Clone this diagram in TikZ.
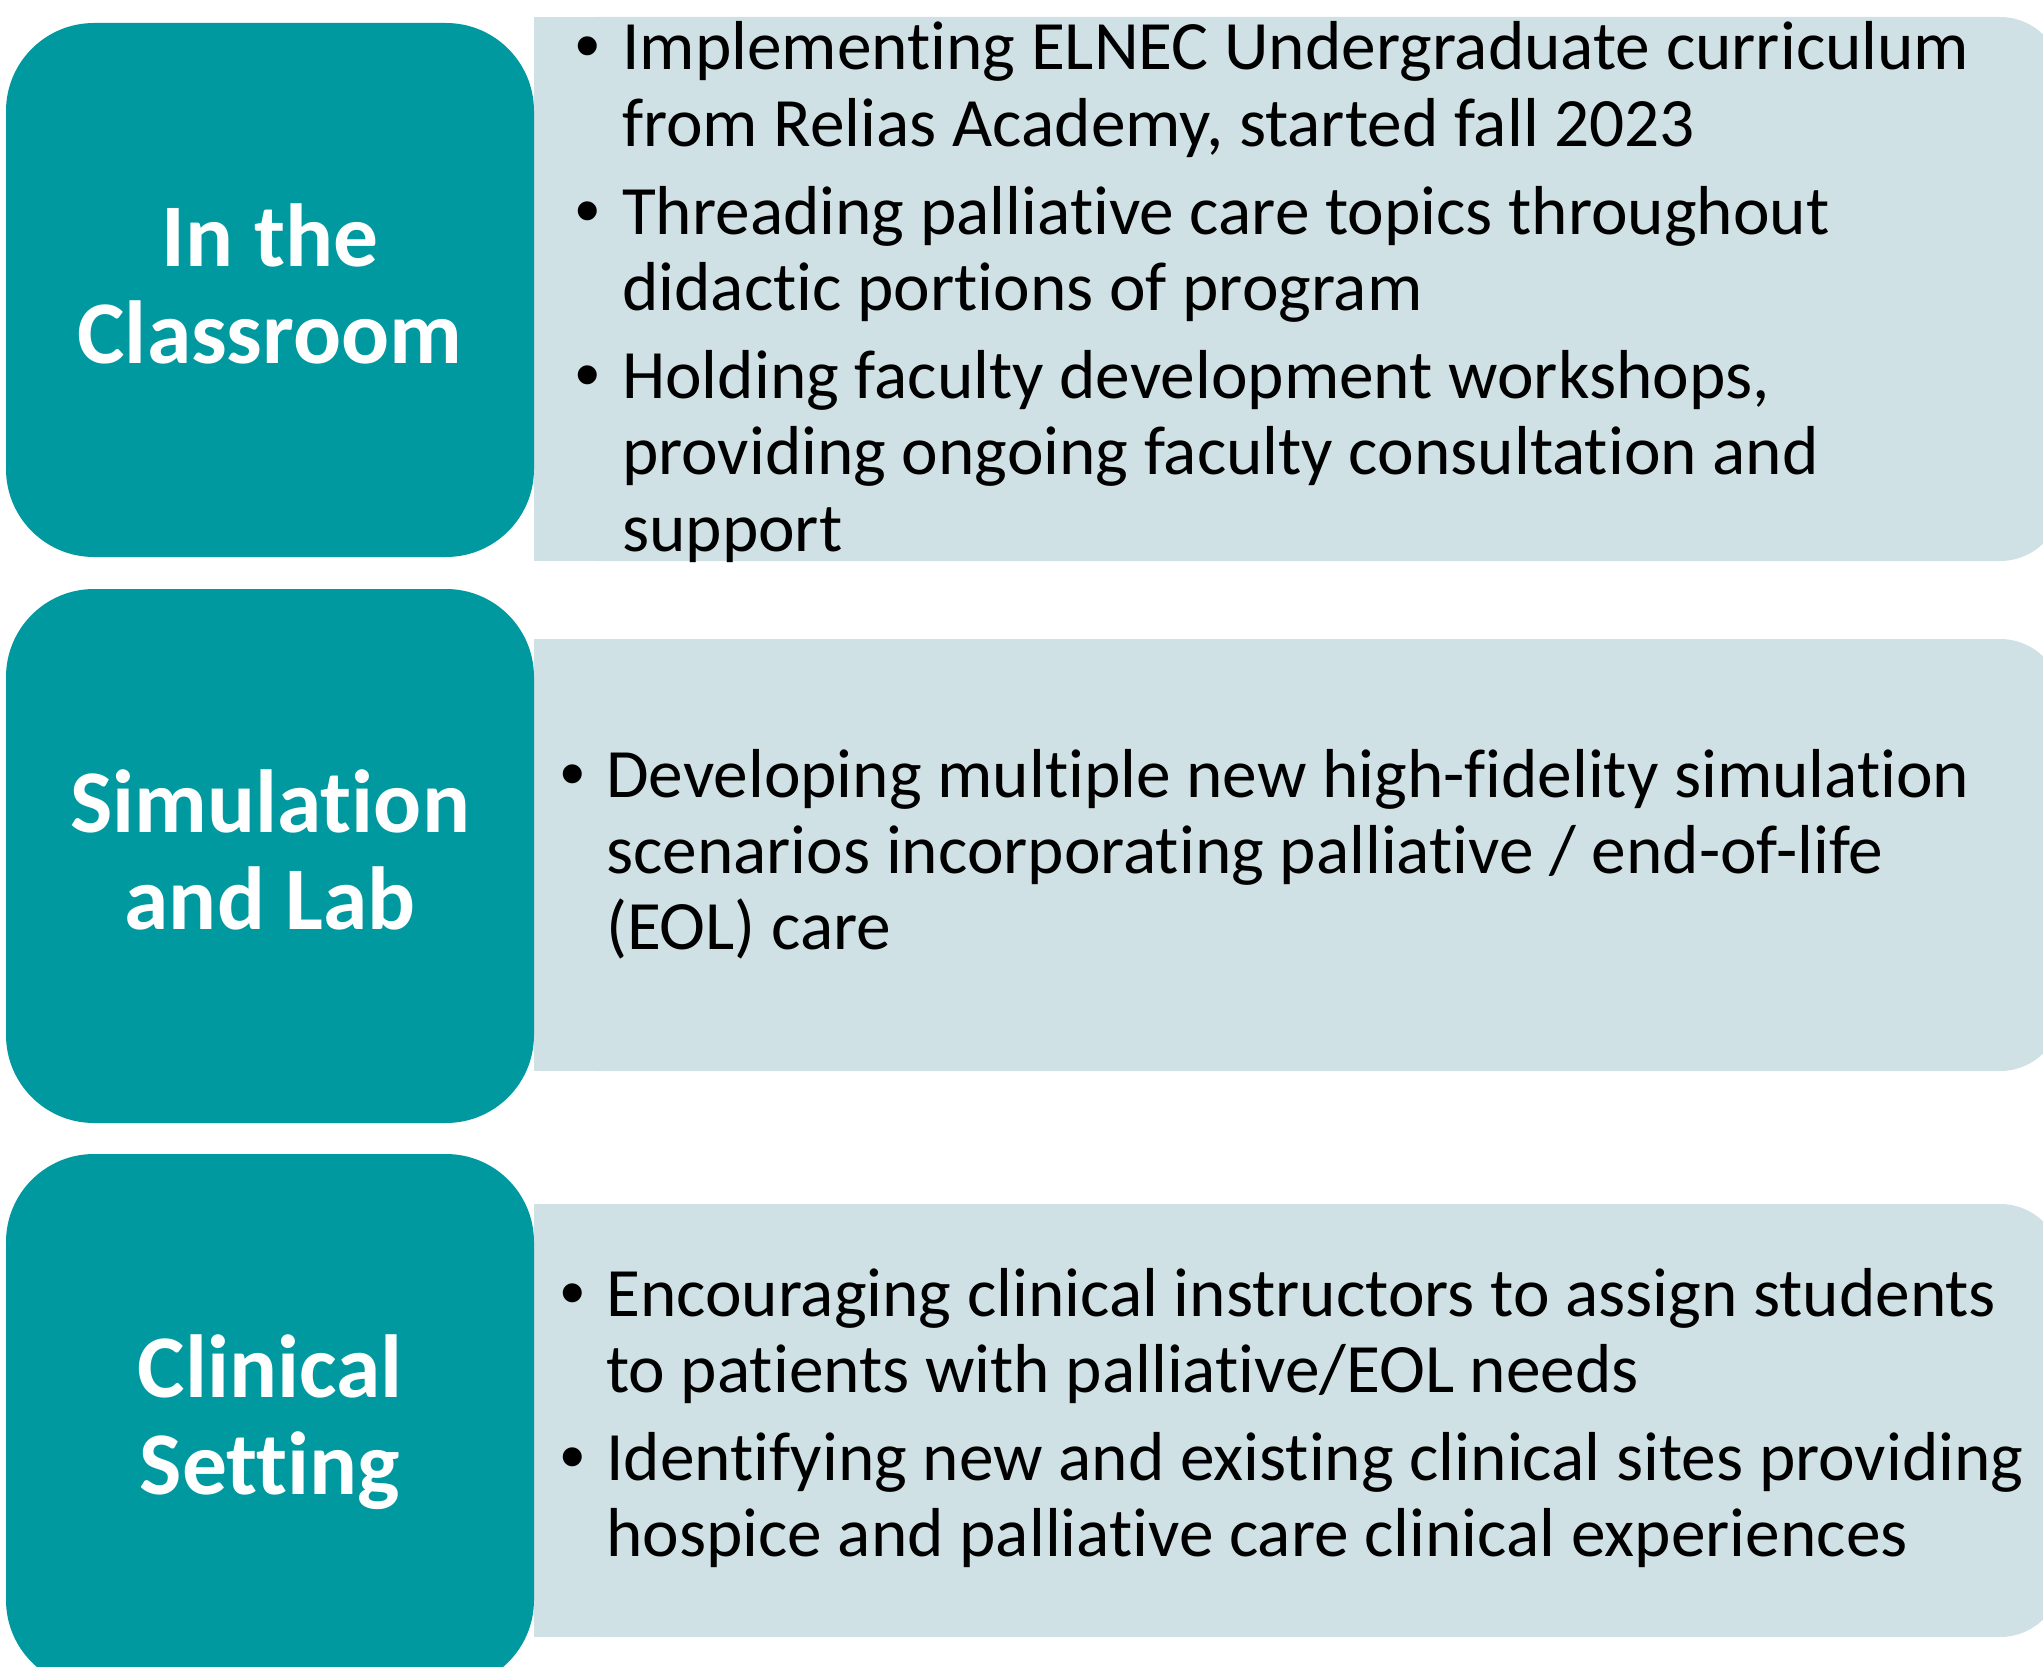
\documentclass[tikz,border=0pt]{standalone}
\usepackage{fontspec}
\setmainfont{Carlito}[Ligatures={NoCommon}]
\newfontfamily\bulletfont{Liberation Sans}
\definecolor{tealfill}{RGB}{0,153,160}
\definecolor{panelfill}{RGB}{207,225,228}
\begin{document}
\begin{tikzpicture}[x=1pt,y=-1pt,
  tealbox/.style={fill=tealfill, draw=none, rounded corners=88pt,
    minimum width=528pt, minimum height=534pt, inner sep=0pt},
  heading/.style={anchor=base, inner sep=0pt, text=white,
    font=\fontsize{89.5}{97.6}\selectfont\bfseries},
  body/.style={anchor=base west, inner sep=0pt, text=black,
    font=\fontsize{69.3}{76}\selectfont},
  dot/.style={anchor=base, inner sep=0pt, text=black,
    font=\bulletfont\fontsize{70}{76}\selectfont},
  panel/.style={fill=panelfill, draw=none}]
\clip (0,0) rectangle (2043,1667);

% light panels: square on the left, rounded on the right
\fill[panel, rounded corners=62pt] (534,17) rectangle (2062,561);
\fill[panel] (534,17) rectangle (700,561);
\fill[panel, rounded corners=62pt] (534,639) rectangle (2062,1071);
\fill[panel] (534,639) rectangle (700,1071);
\fill[panel, rounded corners=62pt] (534,1204) rectangle (2062,1637);
\fill[panel] (534,1204) rectangle (700,1637);

% teal heading blocks
\node[tealbox] (blk1) at (270,290) {};
\node[tealbox] (blk2) at (270,856) {};
\node[tealbox] (blk3) at (270,1421) {};

\node[heading] (h1a) at (270,266) {In the};
\node[heading] (h1b) at (270,363.6) {Classroom};
\node[heading] (h2a) at (270,832) {Simulation};
\node[heading] (h2b) at (270,929) {and Lab};
\node[heading] (h3a) at (270,1397) {Clinical};
\node[heading] (h3b) at (270,1494) {Setting};

% classroom items
\node[dot]  (d1a) at (588,70) {•};
\node[body] (t1a) at (622,70) {Implementing ELNEC Undergraduate curriculum};
\node[body] (t1b) at (622,146.5) {from Relias Academy, started fall 2023};
\node[dot]  (d1c) at (588,234) {•};
\node[body] (t1c) at (622,234) {Threading palliative care topics throughout};
\node[body] (t1d) at (622,310.5) {didactic portions of program};
\node[dot]  (d1e) at (588,398) {•};
\node[body] (t1e) at (622,398) {Holding faculty development workshops,};
\node[body] (t1f) at (622,474.5) {providing ongoing faculty consultation and};
\node[body] (t1g) at (622,551) {support};

% simulation items
\node[dot]  (d2a) at (573,797) {•};
\node[body] (t2a) at (606,797) {Developing multiple new high-fidelity simulation};
\node[body] (t2b) at (606,873) {scenarios incorporating palliative / end-of-life};
\node[body] (t2c) at (606,949) {(EOL) care};

% clinical items
\node[dot]  (d3a) at (573,1316) {•};
\node[body] (t3a) at (606,1316) {Encouraging clinical instructors to assign students};
\node[body] (t3b) at (606,1392) {to patients with palliative/EOL needs};
\node[dot]  (d3c) at (573,1480) {•};
\node[body] (t3c) at (606,1480) {Identifying new and existing clinical sites providing};
\node[body] (t3d) at (606,1556) {hospice and palliative care clinical experiences};
\end{tikzpicture}
\end{document}
